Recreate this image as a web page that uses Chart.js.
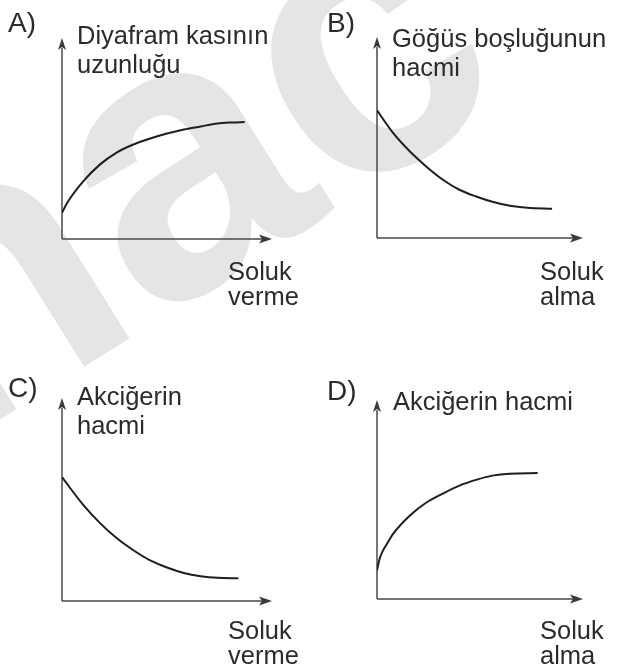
<!DOCTYPE html>
<html>
<head>
<meta charset="utf-8">
<script src="https://cdn.jsdelivr.net/npm/chart.js@4.4.1/dist/chart.umd.min.js"></script>
<style>
  html, body { margin: 0; padding: 0; background: #fff; }
  #page { position: relative; width: 620px; height: 670px; overflow: hidden; font-family: "Liberation Sans", Arial, Helvetica, sans-serif; color: #2b2b2b; }
  #page canvas { position: absolute; }
  .lbl { position: absolute; white-space: nowrap; }
  #wm { position: absolute; font-weight: bold; color: #e5e5e5; white-space: nowrap; }
</style>
</head>
<body>
<div id="page">
  <div id="wm">hac</div>
  <canvas id="cA" width="310" height="335" style="left:0;top:0"></canvas>
  <canvas id="cB" width="310" height="335" style="left:310px;top:0"></canvas>
  <canvas id="cC" width="310" height="335" style="left:0;top:335px"></canvas>
  <canvas id="cD" width="310" height="335" style="left:310px;top:335px"></canvas>
</div>
<script>
// Verileri (eksenler 0-10 arası)
var panelA_x = [0, 0.25, 1, 1.8, 2.6, 3.4, 4.2, 5, 5.8, 6.6, 7.4, 8.1, 8.7];
var panelA_y = [1.3, 1.8, 2.85, 3.7, 4.3, 4.7, 5.0, 5.25, 5.45, 5.6, 5.75, 5.8, 5.82];

var panelB_x = [0, 0.8, 1.6, 2.4, 3.2, 4.0, 4.85, 5.6, 6.45, 7.3, 8.5];
var panelB_y = [6.35, 5.2, 4.3, 3.55, 2.9, 2.4, 2.05, 1.8, 1.6, 1.5, 1.45];

var panelC_x = [0, 1, 1.8, 2.6, 3.4, 4.2, 5, 5.8, 6.6, 7.4, 8.4];
var panelC_y = [6.1, 4.75, 3.85, 3.1, 2.5, 2.0, 1.65, 1.38, 1.22, 1.14, 1.12];

var panelD_x = [0, 0.15, 0.5, 0.8, 1.6, 2.4, 3.2, 4.0, 4.85, 5.6, 6.45, 7.8];
var panelD_y = [1.45, 2.1, 2.8, 3.3, 4.2, 4.85, 5.3, 5.7, 6.0, 6.2, 6.3, 6.33];

var axisMin = 0;
var axisMax = 10;

// Seçenek harfleri ve eksen yazıları
var optionLetters = ['A)', 'B)', 'C)', 'D)'];
var yTitles = [
    ['Diyafram kasının', 'uzunluğu'],
    ['Göğüs boşluğunun', 'hacmi'],
    ['Akciğerin', 'hacmi'],
    ['Akciğerin hacmi']
];
var xTitles = [
    ['Soluk', 'verme'],
    ['Soluk', 'alma'],
    ['Soluk', 'verme'],
    ['Soluk', 'alma']
];

// Eksenleri ok ile çizen eklenti
var arrowAxes = {
    id: 'arrowAxes',
    beforeDatasetsDraw: function(chart) {
        var ctx = chart.ctx;
        var xs = chart.scales.x, ys = chart.scales.y;
        var x0 = xs.getPixelForValue(axisMin), x1 = xs.getPixelForValue(axisMax);
        var y0 = ys.getPixelForValue(axisMin), y1 = ys.getPixelForValue(axisMax);
        ctx.save();
        ctx.strokeStyle = '#4a4a4a';
        ctx.fillStyle = '#3a3a3a';
        ctx.lineWidth = 1.5;
        ctx.beginPath();
        ctx.moveTo(x0, y0);
        ctx.lineTo(x1 - 10, y0);
        ctx.moveTo(x0, y0);
        ctx.lineTo(x0, y1 + 10);
        ctx.stroke();
        // sağ ok
        ctx.beginPath();
        ctx.moveTo(x1, y0);
        ctx.lineTo(x1 - 13, y0 - 4.5);
        ctx.lineTo(x1 - 10, y0);
        ctx.lineTo(x1 - 13, y0 + 4.5);
        ctx.closePath();
        ctx.fill();
        // yukarı ok
        ctx.beginPath();
        ctx.moveTo(x0, y1);
        ctx.lineTo(x0 - 4, y1 + 12);
        ctx.lineTo(x0, y1 + 9);
        ctx.lineTo(x0 + 4, y1 + 12);
        ctx.closePath();
        ctx.fill();
        ctx.restore();
    }
};

function makeChart(id, xv, yv, pad) {
    var pts = xv.map(function(x, i) { return { x: x, y: yv[i] }; });
    return new Chart(document.getElementById(id), {
        type: 'line',
        data: {
            datasets: [{
                data: pts,
                borderColor: '#1e1e1e',
                borderWidth: 2,
                pointRadius: 0,
                fill: false,
                cubicInterpolationMode: 'monotone'
            }]
        },
        options: {
            responsive: false,
            animation: false,
            events: [],
            layout: { padding: pad },
            plugins: { legend: { display: false }, tooltip: { enabled: false } },
            scales: {
                x: { type: 'linear', display: false, min: axisMin, max: axisMax },
                y: { type: 'linear', display: false, min: axisMin, max: axisMax }
            }
        },
        plugins: [arrowAxes]
    });
}

makeChart('cA', panelA_x, panelA_y, { left: 62, right: 38, top: 38, bottom: 96 });
makeChart('cB', panelB_x, panelB_y, { left: 67, right: 37, top: 37, bottom: 97 });
makeChart('cC', panelC_x, panelC_y, { left: 62, right: 38, top: 63, bottom: 69 });
makeChart('cD', panelD_x, panelD_y, { left: 67, right: 37, top: 65, bottom: 71 });

// Yazılar (taban çizgisine göre yerleştirilir)
var page = document.getElementById('page');
function addText(txt, left, baseline, size) {
    var d = document.createElement('div');
    d.className = 'lbl';
    d.textContent = txt;
    d.style.left = left + 'px';
    d.style.top = (baseline - 0.8465 * size) + 'px';
    d.style.fontSize = size + 'px';
    d.style.lineHeight = size + 'px';
    page.appendChild(d);
}

var letterPos = [[8, 33], [327, 33], [8, 398], [327, 401]];
var yTitlePos = [[77, 45, 29], [392, 48, 29], [77, 406, 29], [393, 411, 29]];
var xTitlePos = [[228, 281], [540, 281], [228, 640], [540, 640]];

for (var i = 0; i < 4; i++) {
    addText(optionLetters[i], letterPos[i][0], letterPos[i][1], 28);
    yTitles[i].forEach(function(t, k) {
        addText(t, yTitlePos[i][0], yTitlePos[i][1] + k * yTitlePos[i][2], 25.5);
    });
    xTitles[i].forEach(function(t, k) {
        addText(t, xTitlePos[i][0], xTitlePos[i][1] + k * 25, 25.5);
    });
}

// Arka plandaki filigran
var wm = document.getElementById('wm');
var wmSize = 390;
wm.style.fontSize = wmSize + 'px';
wm.style.lineHeight = wmSize + 'px';
wm.style.left = '-52px';
wm.style.top = (452 - 0.8465 * wmSize) + 'px';
wm.style.transformOrigin = '0 ' + (0.8465 * wmSize) + 'px';
wm.style.transform = 'rotate(-32deg)';
</script>
</body>
</html>
